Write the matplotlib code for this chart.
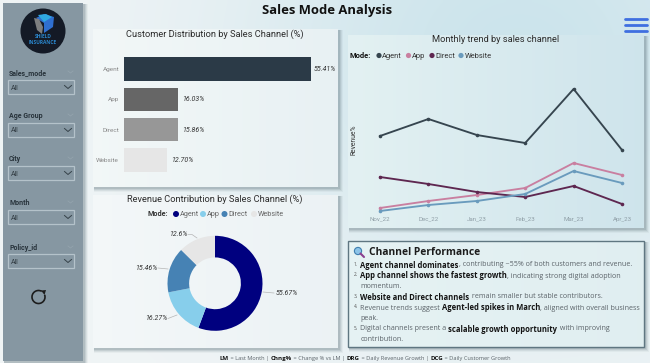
import numpy as np
import matplotlib
matplotlib.use("Agg")
import matplotlib.pyplot as plt
from matplotlib.patches import Rectangle, Circle, Polygon, Arc

W, H = 650, 363

# ---- data ----
channels = ["Agent", "App", "Direct", "Website"]
customer_share = [55.41, 16.03, 15.86, 12.70]
customer_labels = ["55.41%", "16.03%", "15.86%", "12.70%"]
revenue_share = [55.67, 16.27, 15.46, 12.60]
revenue_labels = ["55.67%", "16.27%", "15.46%", "12.6%"]
months = ["Nov_22", "Dec_22", "Jan_23", "Feb_23", "Mar_23", "Apr_23"]
trend_agent = [8.4, 10.1, 8.5, 7.7, 13.1, 7.0]
trend_app = [1.2, 1.9, 2.5, 3.2, 5.7, 4.5]
trend_direct = [4.3, 3.6, 2.8, 2.3, 3.4, 1.6]
trend_website = [0.9, 1.5, 1.9, 2.6, 4.9, 3.7]
slicers = ["Sales_mode", "Age Group", "City", "Month", "Policy_id"]

bar_colors = ["#2b3a47", "#666666", "#979797", "#e6e6e6"]
donut_colors = ["#00007f", "#87ceeb", "#4682b4", "#e6e6e6"]
line_colors = ["#36454f", "#c97fa0", "#5e2750", "#6a9bbd"]

TITLE_FONT = ["Roboto", "DejaVu Sans"]
BODY_FONT = ["Open Sans", "DejaVu Sans"]
plt.rcParams["font.family"] = BODY_FONT

fig = plt.figure(figsize=(W / 100, H / 100), dpi=100)


def px_axes(x0, y0, x1, y1, **kw):
    return fig.add_axes([x0 / W, 1 - y1 / H, (x1 - x0) / W, (y1 - y0) / H], **kw)


# background gradient
bg = px_axes(0, 0, W, H)
bg.set_xlim(0, W)
bg.set_ylim(H, 0)
bg.axis("off")
gx, gy = np.meshgrid(np.linspace(0, 1, 160), np.linspace(0, 1, 90))
d = np.exp(-(((gx - 0.8) / 0.45) ** 2 + ((gy - 0.15) / 0.7) ** 2))
c0 = np.array([0.945, 0.96, 0.965])
c1 = np.array([0.80, 0.895, 0.925])
bg_rgb = c0 + (c1 - c0) * d[..., None]
bg.imshow(bg_rgb, extent=(0, W, H, 0), aspect="auto", interpolation="bilinear", zorder=0)


def panel(x0, y0, x1, y1, color=None, alpha=1.0, grad=None):
    for i, a in zip((4, 3, 2, 1), (0.06, 0.10, 0.14, 0.18)):
        bg.add_patch(Rectangle((x0 + 1, y0 + 1), x1 - x0 + i, y1 - y0 + i, fc="#5a6f78", ec="none", alpha=a, zorder=1))
    if color:
        bg.add_patch(Rectangle((x0, y0), x1 - x0, y1 - y0, fc=color, ec="none", alpha=alpha, zorder=2))
    if grad is not None:
        a0, a1 = np.array(grad[0]), np.array(grad[1])
        tt = np.linspace(0, 1, 40)[None, :, None]
        bg.imshow(a0 + (a1 - a0) * tt, extent=(x0, x1, y1, y0), aspect="auto", interpolation="bilinear", zorder=2)


# sidebar
panel(3, 3, 83, 361, "#8697a2")
# cards
panel(93, 29, 338, 187, grad=((0.95, 0.97, 0.97), (0.91, 0.945, 0.955)))
panel(93, 195, 338, 348, grad=((0.955, 0.97, 0.975), (0.925, 0.95, 0.96)))
panel(348, 35, 644, 228, grad=((0.89, 0.945, 0.95), (0.81, 0.895, 0.925)))
panel(348, 241, 644, 347, grad=((0.90, 0.95, 0.955), (0.88, 0.935, 0.945)))
bg.add_patch(Rectangle((348, 241), 296, 106, fc="none", ec="#5f7681", lw=1.0, zorder=3))

# logo
bg.add_patch(Circle((43, 31), 22.5, fc="#141a26", ec="none", zorder=3))
bg.add_patch(Polygon([[36, 18], [44, 14], [54, 17], [53, 27], [44, 33], [44, 23]], fc="#2f6fd0", ec="none", zorder=3))
bg.add_patch(Polygon([[38, 15], [46, 14], [52, 17], [44, 22]], fc="#2fa8e0", ec="none", zorder=3))
bg.add_patch(Polygon([[34, 18], [39, 19], [43, 27], [42, 34], [37, 30]], fc="#7d7f80", ec="none", zorder=3))
bg.text(43, 36.5, "SHIELD", color="#2a86cc", fontsize=3.5, fontweight="bold", ha="center", va="center", zorder=4)
bg.text(43, 42.5, "INSURANCE", color="#2a86cc", fontsize=3.5, fontweight="bold", ha="center", va="center", zorder=4)

# slicers
label_y = [73, 116, 159, 203, 248]
box_y = [80, 123, 166, 210, 254]
for name, ly, by in zip(slicers, label_y, box_y):
    bg.text(9, ly, name, fontsize=5.0, fontweight="bold", color="#28333b", va="center", family=TITLE_FONT, zorder=4)
    bg.plot([68, 70.5, 73], [ly - 2, ly, ly - 2], color="#93a3ad", lw=0.6, zorder=4)
    bg.add_patch(Rectangle((7.5, by), 66, 14, fc="none", ec="#b4c2ca", lw=0.9, zorder=4))
    bg.text(10.5, by + 8, "All", fontsize=5.0, color="#333d44", va="center", family=TITLE_FONT, zorder=4)
    bg.plot([64.5, 68, 71.5], [by + 5.5, by + 8.5, by + 5.5], color="#36424a", lw=0.7, zorder=4)

# refresh icon
bg.add_patch(Arc((38.5, 297), 13, 13, theta1=-20, theta2=300, color="#1d1d1d", lw=1.2, zorder=4))
bg.add_patch(Polygon([[41, 290.5], [46, 290], [44.5, 295]], fc="#1d1d1d", ec="none", zorder=4))

# header
bg.text(327, 10.5, "Sales Mode Analysis", fontsize=9.4, fontweight="bold", color="#111111", ha="center", va="center", zorder=4)
for yy in (18.5, 25, 31):
    bg.plot([625, 647], [yy, yy], color="#3f6fe0", lw=2.0, solid_capstyle="round", zorder=5)

# chart titles
bg.text(215, 34, "Customer Distribution by Sales Channel (%)", fontsize=6.65, color="#2c2c2c",
        ha="center", va="center", family=TITLE_FONT, zorder=4)
bg.text(215, 199, "Revenue Contribution by Sales Channel (%)", fontsize=6.65, color="#2c2c2c",
        ha="center", va="center", family=TITLE_FONT, zorder=4)
bg.text(495.5, 40, "Monthly trend by sales channel", fontsize=6.65, color="#2c2c2c",
        ha="center", va="center", family=TITLE_FONT, zorder=4)

# bar chart
ax = px_axes(124, 52, 330, 177)
ax.patch.set_alpha(0)
ypos = np.arange(len(channels))
ax.barh(ypos, customer_share, height=0.76, color=bar_colors)
ax.set_ylim(3.56, -0.56)
ax.set_xlim(0, 61)
ax.set_yticks(ypos, channels, fontsize=4.6, color="#8a8a8a", family=TITLE_FONT)
ax.tick_params(axis="y", length=0, pad=3.5)
ax.set_xticks([])
for s in ax.spines.values():
    s.set_visible(False)
for i, (v, t) in enumerate(zip(customer_share, customer_labels)):
    ax.annotate(t, (v, i), xytext=(1.5 if i == 0 else 3.2, 0), textcoords="offset points", fontsize=5.0,
                style="italic", color="#333333", va="center", family=TITLE_FONT)

# donut
dax = px_axes(215 - 47.5, 283.3 - 47.5, 215 + 47.5, 283.3 + 47.5)
dax.pie(revenue_share, colors=donut_colors, startangle=90, counterclock=False, radius=1,
        wedgeprops=dict(width=0.455, edgecolor="none"))
dax.set_xlim(-1, 1)
dax.set_ylim(-1, 1)
label_pos = [(276, 293), (156, 318.5), (146, 268), (178, 234.5)]
leader_pos = [[(263, 292), (274, 293)], [(177, 315), (168, 318.5)], [(168, 269), (158, 268)],
              [(197, 238), (192, 234.5), (188, 234.5)]]
for t, (lx, ly), seg in zip(revenue_labels, label_pos, leader_pos):
    bg.text(lx, ly, t, fontsize=5.0, style="italic", color="#333333", va="center",
            ha="left" if lx > 215 else "center", family=TITLE_FONT, zorder=4)
    xs, ys = zip(*seg)
    bg.plot(xs, ys, color="#b5b5b5", lw=0.5, zorder=4)
# donut legend
bg.text(148, 214, "Mode:", fontsize=5.2, fontweight="bold", color="#333333", va="center", family=TITLE_FONT, zorder=4)
for name, c, cx in zip(channels, donut_colors, (176, 203, 224.5, 254)):
    bg.add_patch(Circle((cx, 214), 3, fc=c, ec="none", zorder=4))
    bg.text(cx + 3.5, 214, name, fontsize=5.2, color="#666666", va="center", family=TITLE_FONT, zorder=4)

# trend legend
bg.text(350, 56, "Mode:", fontsize=5.4, fontweight="bold", color="#111111", va="center", family=TITLE_FONT, zorder=4)
for name, c, cx in zip(channels, line_colors, (379, 408.5, 432, 461)):
    bg.add_patch(Circle((cx, 55.5), 2.6, fc=c, ec="none", zorder=4))
    bg.text(cx + 3.3, 56, name, fontsize=5.4, color="#333333", va="center", family=TITLE_FONT, zorder=4)

# line chart
lax = px_axes(356, 60, 646, 220)
lax.patch.set_alpha(0)
xs = np.arange(len(months))
for vals, c in zip((trend_agent, trend_app, trend_direct, trend_website), line_colors):
    lax.plot(xs, vals, color=c, lw=1.35, marker="o", ms=2.6, mew=0)
lax.set_xlim(-24 / 48.4, (646 - 380) / 48.4)
lax.set_ylim(0, 16)
lax.set_xticks(xs, months, fontsize=4.4, color="#8f9ea6", family=TITLE_FONT)
lax.tick_params(axis="x", length=0, pad=-2.5)
lax.set_yticks([])
for s in lax.spines.values():
    s.set_visible(False)
bg.text(353.5, 140, "Revenue%", fontsize=4.9, color="#333333", rotation=90, ha="center", va="center",
        family=TITLE_FONT, zorder=4)

# text panel
bg.add_patch(Circle((358, 251), 3.6, fc="#8cc4e8", ec="#3f7fb0", lw=0.8, zorder=4))
bg.plot([360.5, 364], [253.5, 257], color="#8a3f8f", lw=1.5, solid_capstyle="round", zorder=4)
bg.text(369, 252.5, "Channel Performance", fontsize=7.4, fontweight="bold", color="#1c1c1c", va="center", zorder=4)

fig.canvas.draw()
rend = fig.canvas.get_renderer()


def rich(x, y, parts, size=5.1):
    for txt, bold in parts:
        t = bg.text(x, y, txt, fontsize=size * (1.087 if bold else 1), fontweight="bold" if bold else "normal",
                    color="#141414" if bold else "#5a6268", va="center", zorder=4)
        x += t.get_window_extent(rend).width


for num, ny in zip("12345", (264, 274.5, 296, 306.5, 328)):
    bg.text(354, ny, num + ".", fontsize=3.4, color="#555555", va="center", ha="left", zorder=4)
rich(360.5, 265, [("Agent channel dominates", True), (", contributing ~55% of both customers and revenue.", False)])
rich(360.5, 276, [("App channel shows the fastest growth", True), (", indicating strong digital adoption", False)])
rich(360.5, 286.5, [("momentum.", False)])
rich(360.5, 297, [("Website and Direct channels", True), (" remain smaller but stable contributors.", False)])
rich(360.5, 308, [("Revenue trends suggest ", False), ("Agent-led spikes in March", True),
                  (", aligned with overall business", False)])
rich(360.5, 318.5, [("peak.", False)])
rich(360.5, 329, [("Digital channels present a ", False), ("scalable growth opportunity", True), (" with improving", False)])
rich(360.5, 339.5, [("contribution.", False)])

# footer
rich(220, 358.5, [("LM", True), (" = Last Month | ", False), ("Chng%", True), (" = Change % vs LM | ", False),
                  ("DRG", True), (" = Daily Revenue Growth | ", False), ("DCG", True),
                  (" = Daily Customer Growth", False)], size=4.1)

fig.savefig("out.png", dpi=100)
